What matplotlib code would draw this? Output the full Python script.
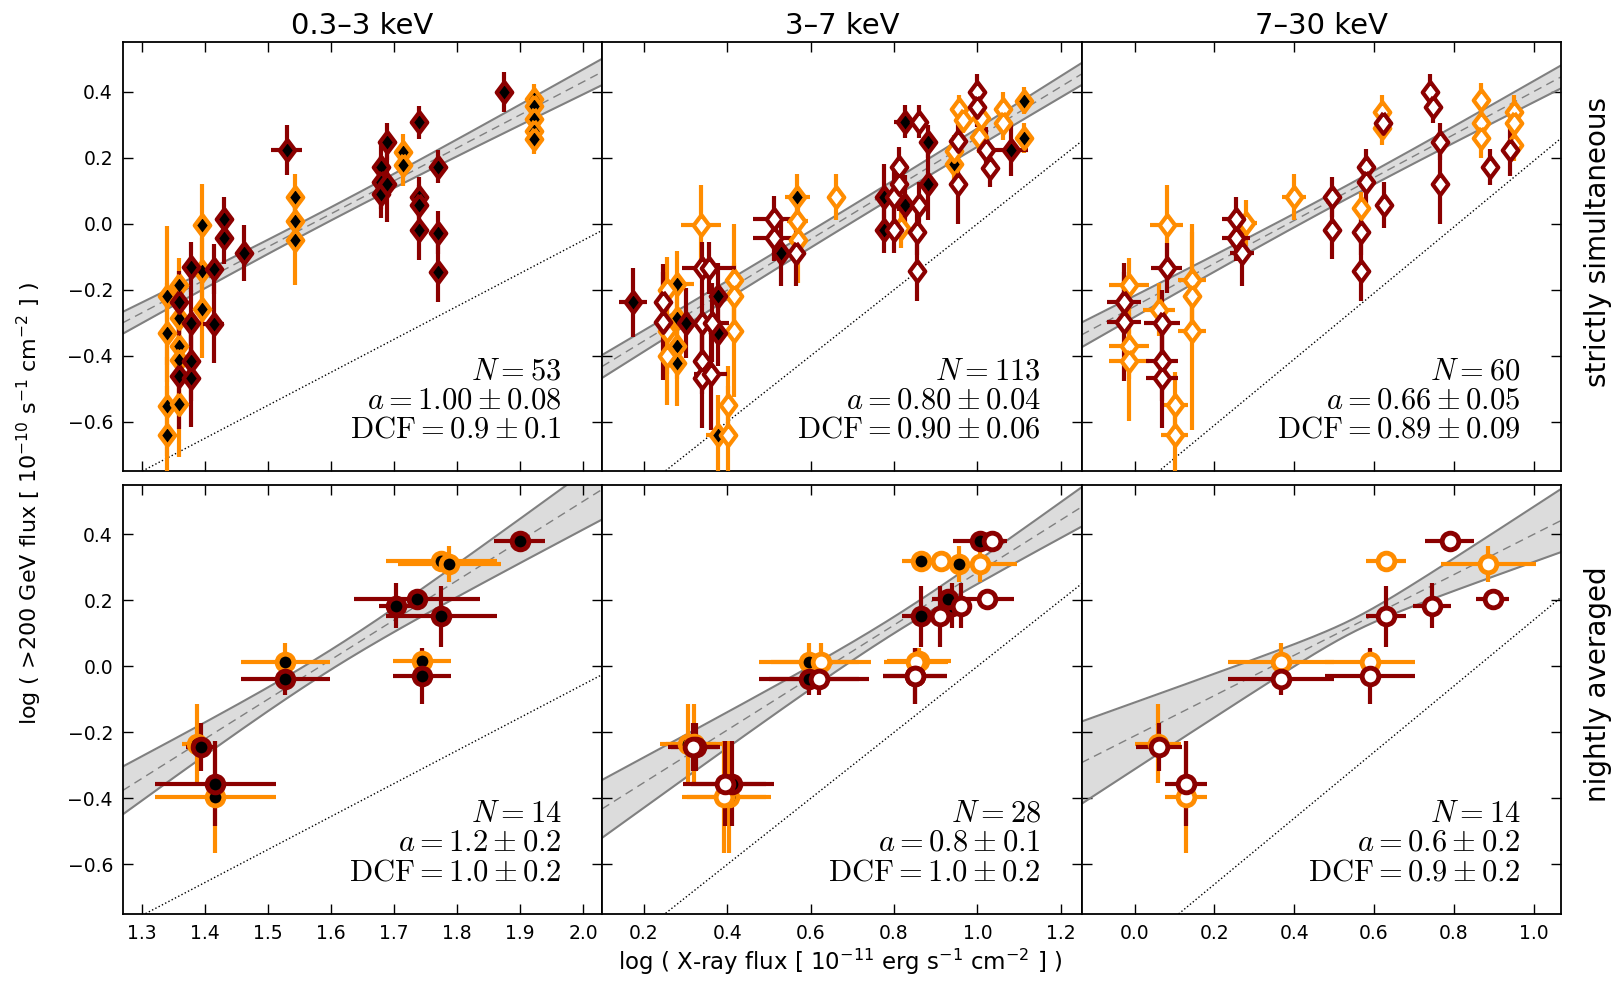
import numpy as np
import matplotlib
matplotlib.use("Agg")
import matplotlib.pyplot as plt

plt.rcParams['font.family'] = ['DejaVu Sans']
plt.rcParams['mathtext.fontset'] = 'cm'

RED = '#8b0000'
ORANGE = '#ff8c00'

BANDS = ['0.3–3 keV', '3–7 keV', '7–30 keV']
ROWS = ['strictly simultaneous', 'nightly averaged']

# ---------------- strictly simultaneous, 0.3-3 keV (all filled)
s1_x = [1.341, 1.341, 1.341, 1.341, 1.360, 1.360, 1.360, 1.360, 1.360, 1.396, 1.396, 1.396,
        1.543, 1.543, 1.543, 1.714, 1.714, 1.922, 1.922, 1.922, 1.922, 1.922,
        1.360, 1.360, 1.378, 1.378, 1.378, 1.378, 1.414, 1.414, 1.431, 1.431, 1.462, 1.530,
        1.680, 1.680, 1.680, 1.689, 1.689, 1.740, 1.740, 1.740, 1.740, 1.770, 1.770, 1.770, 1.874]
s1_y = [-0.218, -0.330, -0.552, -0.640, -0.184, -0.285, -0.371, -0.414, -0.547, -0.003, -0.144, -0.258,
        0.081, 0.007, -0.050, 0.217, 0.178, 0.378, 0.358, 0.317, 0.282, 0.257,
        -0.238, -0.461, -0.132, -0.300, -0.416, -0.468, -0.137, -0.302, 0.015, -0.043, -0.089, 0.224,
        0.171, 0.126, 0.089, 0.249, 0.121, 0.307, 0.081, 0.058, -0.020, 0.173, -0.027, -0.146, 0.400]
s1_xe = [0.008] * 22 + [0.008, 0.008, 0.008, 0.008, 0.008, 0.008, 0.008, 0.017, 0.008, 0.008, 0.008, 0.025,
                        0.008, 0.008, 0.008, 0.008, 0.008, 0.008, 0.008, 0.008, 0.008, 0.008, 0.008, 0.008, 0.008]
s1_ye = [0.21, 0.15, 0.15, 0.15, 0.08, 0.10, 0.10, 0.12, 0.16, 0.123, 0.10, 0.148,
         0.07, 0.07, 0.134, 0.055, 0.065, 0.045, 0.045, 0.045, 0.045, 0.045,
         0.095, 0.16, 0.076, 0.10, 0.12, 0.147, 0.077, 0.12, 0.065, 0.08, 0.085, 0.075,
         0.07, 0.08, 0.07, 0.055, 0.115, 0.05, 0.06, 0.06, 0.09, 0.05, 0.065, 0.09, 0.06]
s1_c = 'o' * 22 + 'r' * 25
s1_f = 'k' * 47

# ---------------- strictly simultaneous, 3-7 keV
s2_x = [0.280, 0.280, 0.280, 0.280, 0.256, 0.256, 0.256, 0.336, 0.416, 0.416, 0.416, 0.378, 0.402, 0.402,
        0.568, 0.568, 0.570, 0.662, 0.816, 0.945, 0.957, 0.965, 0.945, 1.005, 1.009, 1.061, 1.061,
        1.113, 1.113,
        0.174, 0.246, 0.246, 0.302, 0.340, 0.340, 0.340, 0.340, 0.356, 0.364, 0.360, 0.378, 0.378,
        0.512, 0.512, 0.530, 0.564, 0.776, 0.776, 0.800, 0.800, 0.812, 0.812, 0.826, 0.826, 0.859,
        0.859, 0.855, 0.855, 0.882, 0.882, 0.953, 0.953, 0.999, 0.999, 1.021, 1.031, 1.081]
s2_y = [-0.182, -0.285, -0.371, -0.421, -0.200, -0.325, -0.400, -0.003, -0.171, -0.218, -0.325, -0.640,
        -0.550, -0.640, 0.081, 0.007, -0.050, 0.081, -0.013, 0.180, 0.349, 0.314, 0.219, 0.264, 0.319,
        0.349, 0.304, 0.373, 0.259,
        -0.238, -0.238, -0.298, -0.300, -0.134, -0.300, -0.416, -0.468, -0.134, -0.300, -0.456, -0.218,
        -0.330, 0.015, -0.043, -0.089, -0.089, 0.081, -0.018, -0.018, 0.080, 0.173, 0.120, 0.057, 0.309,
        0.309, 0.057, -0.026, -0.144, 0.249, 0.120, 0.251, 0.120, 0.400, 0.354, 0.224, 0.170, 0.224]
s2_xe = [0.040, 0.010, 0.010, 0.010, 0.020, 0.020, 0.020, 0.048, 0.010, 0.010, 0.010, 0.030, 0.020, 0.010,
         0.030, 0.025, 0.010, 0.010, 0.010, 0.010, 0.010, 0.010, 0.010, 0.010, 0.010, 0.010, 0.010,
         0.010, 0.010,
         0.033, 0.010, 0.010, 0.032, 0.010, 0.010, 0.010, 0.010, 0.064, 0.040, 0.040, 0.010, 0.010,
         0.050, 0.050, 0.010, 0.010, 0.010, 0.010, 0.010, 0.010, 0.020, 0.010, 0.010, 0.025, 0.010,
         0.010, 0.010, 0.010, 0.010, 0.010, 0.010, 0.010, 0.010, 0.010, 0.010, 0.010, 0.040]
s2_ye = [0.10, 0.10, 0.10, 0.13, 0.10, 0.13, 0.15, 0.12, 0.17, 0.10, 0.20, 0.12, 0.12, 0.15,
         0.07, 0.07, 0.13, 0.07, 0.06, 0.05, 0.04, 0.04, 0.05, 0.05, 0.05, 0.05, 0.05,
         0.04, 0.045,
         0.105, 0.093, 0.176, 0.106, 0.08, 0.10, 0.10, 0.15, 0.08, 0.12, 0.17, 0.10, 0.10,
         0.07, 0.07, 0.10, 0.10, 0.10, 0.07, 0.07, 0.08, 0.06, 0.08, 0.09, 0.05, 0.05,
         0.07, 0.07, 0.09, 0.05, 0.11, 0.05, 0.12, 0.055, 0.06, 0.07, 0.06, 0.08]
s2_c = 'o' * 29 + 'r' * 38
s2_f = ('kkkk' + 'www' + 'w' + 'www' + 'k' + 'ww' + 'kww' + 'w' + 'w' + 'kwww' + 'ww' + 'ww' + 'kk'
        + 'k' + 'ww' + 'k' + 'wwww' + 'www' + 'kk' + 'wwkw' + 'kk' + 'ww' + 'ww' + 'kk' + 'wwww' + 'kk'
        + 'ww' + 'ww' + 'ww' + 'k')

# ---------------- strictly simultaneous, 7-30 keV (all open)
s3_x = [-0.014, -0.014, -0.014, 0.080, 0.060, 0.100, 0.100, 0.144, 0.144, 0.144, 0.278, 0.400, 0.567,
        0.619, 0.619, 0.868, 0.868, 0.868, 0.952, 0.952, 0.952,
        -0.027, -0.027, 0.080, 0.068, 0.068, 0.068, 0.253, 0.253, 0.269, 0.494, 0.494, 0.580, 0.580,
        0.567, 0.567, 0.625, 0.623, 0.740, 0.748, 0.765, 0.765, 0.890, 0.942]
s3_y = [-0.184, -0.371, -0.416, -0.003, -0.260, -0.550, -0.640, -0.171, -0.218, -0.325, 0.002, 0.081, 0.047,
        0.339, 0.289, 0.375, 0.304, 0.259, 0.339, 0.304, 0.239,
        -0.238, -0.298, -0.134, -0.300, -0.416, -0.468, 0.015, -0.043, -0.089, 0.081, -0.018, 0.173, 0.128,
        -0.026, -0.144, 0.057, 0.306, 0.400, 0.354, 0.249, 0.120, 0.173, 0.224]
s3_xe = [0.050, 0.050, 0.050, 0.042, 0.040, 0.035, 0.035, 0.035, 0.010, 0.035, 0.030, 0.030, 0.010,
         0.010, 0.010, 0.010, 0.010, 0.010, 0.010, 0.010, 0.010,
         0.042, 0.042, 0.038, 0.045, 0.040, 0.040, 0.035, 0.035, 0.030, 0.010, 0.010, 0.010, 0.010,
         0.010, 0.010, 0.010, 0.010, 0.010, 0.010, 0.010, 0.010, 0.010, 0.010]
s3_ye = [0.08, 0.10, 0.18, 0.12, 0.08, 0.10, 0.12, 0.17, 0.08, 0.30, 0.07, 0.07, 0.05,
         0.05, 0.05, 0.05, 0.05, 0.06, 0.05, 0.05, 0.05,
         0.093, 0.178, 0.076, 0.10, 0.12, 0.15, 0.065, 0.07, 0.10, 0.06, 0.09, 0.055, 0.07,
         0.07, 0.09, 0.07, 0.05, 0.055, 0.05, 0.055, 0.12, 0.055, 0.08]
s3_c = 'o' * 21 + 'r' * 23
s3_f = 'w' * 44

# ---------------- nightly averaged, 0.3-3 keV (filled)
n1_x = [1.387, 1.417, 1.528, 1.775, 1.788, 1.745, 1.394, 1.417, 1.528, 1.704, 1.737, 1.775, 1.745, 1.899]
n1_y = [-0.235, -0.396, 0.012, 0.319, 0.309, 0.015, -0.244, -0.355, -0.038, 0.183, 0.203, 0.151, -0.028, 0.380]
n1_xe = [0.023, 0.096, 0.071, 0.088, 0.082, 0.046, 0.023, 0.096, 0.071, 0.027, 0.100, 0.088, 0.046, 0.040]
n1_ye = [0.12, 0.17, 0.06, 0.02, 0.054, 0.04, 0.072, 0.13, 0.048, 0.068, 0.02, 0.093, 0.085, 0.02]
n1_c = 'o' * 6 + 'r' * 8
n1_f = 'k' * 14

# ---------------- nightly averaged, 3-7 keV
n2_x = [0.306, 0.404, 0.596, 0.864, 0.956, 0.860, 0.320, 0.392, 0.624, 0.852, 0.912, 1.006,
        0.324, 0.412, 0.596, 0.938, 0.930, 0.864, 0.850, 1.006, 0.318, 0.394, 0.620, 0.850,
        0.910, 0.960, 1.034, 1.024]
n2_y = [-0.235, -0.396, 0.012, 0.319, 0.309, 0.015, -0.234, -0.396, 0.012, 0.012, 0.319, 0.309,
        -0.244, -0.355, -0.038, 0.183, 0.203, 0.151, -0.028, 0.380, -0.244, -0.355, -0.038, -0.028,
        0.151, 0.183, 0.380, 0.203]
n2_xe = [0.067, 0.100, 0.120, 0.045, 0.040, 0.077, 0.067, 0.100, 0.120, 0.077, 0.020, 0.090,
         0.059, 0.100, 0.120, 0.025, 0.040, 0.045, 0.077, 0.064, 0.059, 0.100, 0.120, 0.077,
         0.020, 0.020, 0.030, 0.064]
n2_ye = [0.12, 0.17, 0.06, 0.02, 0.054, 0.04, 0.12, 0.17, 0.06, 0.04, 0.02, 0.054,
         0.072, 0.13, 0.048, 0.068, 0.02, 0.093, 0.085, 0.02, 0.072, 0.13, 0.048, 0.085,
         0.093, 0.068, 0.02, 0.02]
n2_c = 'o' * 12 + 'r' * 16
n2_f = 'kkkkkk' + 'wwwwww' + 'kkkkkkkk' + 'wwwwwwww'

# ---------------- nightly averaged, 7-30 keV (open)
n3_x = [0.058, 0.129, 0.367, 0.591, 0.630, 0.887, 0.061, 0.129, 0.367, 0.591, 0.630, 0.745, 0.790, 0.898]
n3_y = [-0.234, -0.396, 0.012, 0.012, 0.319, 0.309, -0.244, -0.355, -0.038, -0.028, 0.151, 0.183, 0.380, 0.203]
n3_xe = [0.057, 0.052, 0.132, 0.113, 0.051, 0.120, 0.058, 0.052, 0.132, 0.113, 0.051, 0.047, 0.062, 0.041]
n3_ye = [0.12, 0.17, 0.06, 0.04, 0.02, 0.054, 0.072, 0.13, 0.048, 0.085, 0.093, 0.068, 0.02, 0.02]
n3_c = 'o' * 6 + 'r' * 8
n3_f = 'w' * 14

# fit parameters: slope, pivot x, value at pivot, slope err, offset err
fits = [[(1.00, 1.60, 0.03, 0.08, 0.020), (0.77, 0.70, 0.03, 0.04, 0.025), (0.65, 0.50, 0.075, 0.05, 0.020)],
        [(1.20, 1.60, 0.02, 0.20, 0.030), (0.795, 0.80, 0.125, 0.12, 0.025), (0.61, 0.55, 0.125, 0.18, 0.020)]]
# offset of the dotted slope-one line
dotted = [[2.05, 1.00, 0.81], [2.055, 1.00, 0.86]]

stats = [[('53', '1.00', '0.08', '0.9', '0.1'), ('113', '0.80', '0.04', '0.90', '0.06'),
          ('60', '0.66', '0.05', '0.89', '0.09')],
         [('14', '1.2', '0.2', '1.0', '0.2'), ('28', '0.8', '0.1', '1.0', '0.2'),
          ('14', '0.6', '0.2', '0.9', '0.2')]]

xlims = [(1.27, 2.03), (0.10, 1.25), (-0.133, 1.069)]
xticks = [np.arange(1.3, 2.01, 0.1), np.arange(0.2, 1.21, 0.2), np.arange(0.0, 1.01, 0.2)]
yticks = [-0.6, -0.4, -0.2, 0.0, 0.2, 0.4]

panels = [[(s1_x, s1_y, s1_xe, s1_ye, s1_c, s1_f), (s2_x, s2_y, s2_xe, s2_ye, s2_c, s2_f),
           (s3_x, s3_y, s3_xe, s3_ye, s3_c, s3_f)],
          [(n1_x, n1_y, n1_xe, n1_ye, n1_c, n1_f), (n2_x, n2_y, n2_xe, n2_ye, n2_c, n2_f),
           (n3_x, n3_y, n3_xe, n3_ye, n3_c, n3_f)]]

# a diamond a bit wider than matplotlib's thin one
diamond = [(0, 1), (0.75, 0), (0, -1), (-0.75, 0), (0, 1)]


def fmt(v):
    return ('%.1f' % v).replace('-', '\u2212')


fig, axes = plt.subplots(2, 3, figsize=(16.21, 9.81), dpi=100)
fig.subplots_adjust(left=0.0757, right=0.963, top=0.957, bottom=0.0683, hspace=0.031, wspace=0)

for r in range(2):
    marker = diamond if r == 0 else 'o'
    ms = 15 if r == 0 else 12
    mew = 3 if r == 0 else 3.5
    for c in range(3):
        ax = axes[r, c]
        x0, x1 = xlims[c]
        xx = np.linspace(x0, x1, 200)

        a, xp, yp, sa, s0 = fits[r][c]
        mid = a * (xx - xp) + yp
        hw = np.sqrt(s0 ** 2 + (sa * (xx - xp)) ** 2)
        ax.fill_between(xx, mid - hw, mid + hw, color='#dcdcdc', lw=0, zorder=1)
        ax.plot(xx, mid - hw, color='gray', lw=1.5, zorder=2)
        ax.plot(xx, mid + hw, color='gray', lw=1.5, zorder=2)
        ax.plot(xx, mid, color='gray', lw=1, ls=(0, (6, 4)), zorder=2)
        ax.plot(xx, xx - dotted[r][c], color='black', lw=1, ls=':', zorder=2)

        px, py, pxe, pye, pc, pf = panels[r][c]
        for col_key, col in (('o', ORANGE), ('r', RED)):
            for f_key, face in (('k', 'black'), ('w', 'white')):
                idx = [i for i in range(len(px)) if pc[i] == col_key and pf[i] == f_key]
                if not idx:
                    continue
                ax.errorbar([px[i] for i in idx], [py[i] for i in idx],
                            xerr=[pxe[i] for i in idx], yerr=[pye[i] for i in idx],
                            fmt='none', ecolor=col, elinewidth=3, capsize=0, zorder=3)
                ax.plot([px[i] for i in idx], [py[i] for i in idx], ls='none',
                        marker=marker, ms=ms, mfc=face, mec=col, mew=mew, zorder=4)

        n, av, ae, dv, de = stats[r][c]
        tk = dict(transform=ax.transAxes, ha='right', va='baseline', fontsize=22)
        ax.text(0.915, 0.215, r'$N=%s$' % n, **tk)
        ax.text(0.915, 0.147, r'$a=%s\pm%s$' % (av, ae), **tk)
        ax.text(0.915, 0.078, r'$\mathrm{DCF}=%s\pm%s$' % (dv, de), **tk)

        ax.set_xlim(x0, x1)
        ax.set_ylim(-0.75, 0.55)
        ax.set_xticks(xticks[c])
        ax.set_yticks(yticks)
        ax.tick_params(direction='in', top=True, right=True, length=7, width=1, labelsize=13.5, pad=7)
        for sp in ax.spines.values():
            sp.set_linewidth(1.3)
        if c > 0:
            ax.set_yticklabels([])
        else:
            ax.set_yticklabels([fmt(v) for v in yticks])
        if r == 0:
            ax.set_xticklabels([])
            ax.set_title(BANDS[c], fontsize=21, pad=6)
        else:
            ax.set_xticklabels([fmt(v) for v in xticks[c]])
        if c == 2:
            ax.text(1.077, 0.535, ROWS[r], transform=ax.transAxes, rotation=90,
                    ha='center', va='center', fontsize=20)

fig.text(0.018, 0.487, r'log ( >200 GeV flux [ $\mathdefault{10^{-10}}$ s$\mathdefault{^{-1}}$ cm$\mathdefault{^{-2}}$ ] )',
         rotation=90, ha='center', va='center', fontsize=16)
fig.text(0.518, 0.019, r'log ( X-ray flux [ $\mathdefault{10^{-11}}$ erg s$\mathdefault{^{-1}}$ cm$\mathdefault{^{-2}}$ ] )',
         ha='center', va='center', fontsize=16.5)

fig.savefig('out.png', dpi=100)
